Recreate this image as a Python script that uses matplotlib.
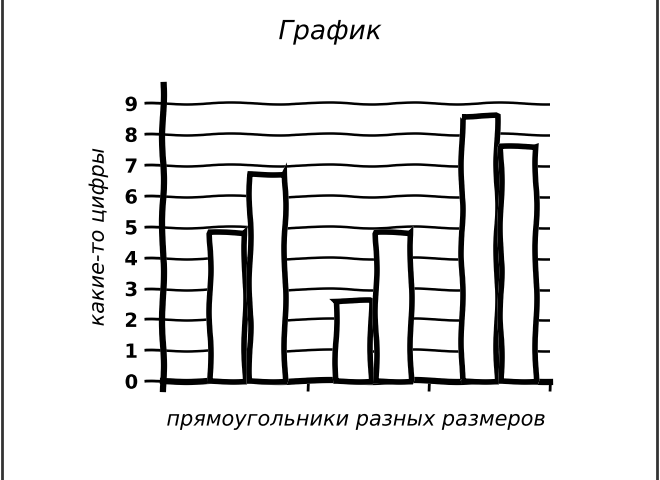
import numpy as np
import matplotlib
matplotlib.use("Agg")
import matplotlib.pyplot as plt
from matplotlib.lines import Line2D

title = "График"
xlabel = "прямоугольники разных размеров"
ylabel = "какие-то цифры"
first_bars = [4.8, 2.6, 8.6]
second_bars = [6.7, 4.8, 7.6]
yticks = list(range(10))

with plt.xkcd():
    plt.rcParams['font.family'] = ['DejaVu Sans']
    plt.rcParams['font.style'] = 'italic'

    fig = plt.figure(figsize=(6.6, 4.8), dpi=100)
    ax = fig.add_axes([0.247, 0.19, 0.586, 0.633])

    centers = 0.5 + 1.04 * np.arange(len(first_bars))
    w = 0.29
    ax.bar(centers - w / 2 - 0.02, first_bars, width=w, color='white',
           edgecolor='black', linewidth=4, zorder=3)
    ax.bar(centers + w / 2 + 0.02, second_bars, width=w, color='white',
           edgecolor='black', linewidth=4, zorder=3)

    ax.set_xlim(-0.2, 3.0)
    ax.set_ylim(-0.25, 9.6)
    ax.spines['top'].set_visible(False)
    ax.spines['right'].set_visible(False)
    ax.spines['bottom'].set_position(('data', 0))
    ax.spines['left'].set_linewidth(4.5)
    ax.spines['bottom'].set_linewidth(4.5)

    ax.set_yticks(yticks)
    ax.set_yticklabels([str(t) for t in yticks], fontsize=14, fontstyle='normal',
                       fontweight='bold')
    ax.tick_params(axis='y', length=14, width=2, direction='out', pad=4)
    ax.set_xticks([1, 2, 3])
    ax.set_xticklabels([])
    ax.tick_params(axis='x', length=7, width=2, direction='out')

    ax.yaxis.grid(True, color='black', linewidth=1.8)
    ax.set_axisbelow(True)

    fig.text(0.5, 0.933, title, fontsize=19, ha='center', va='center')
    ax.set_xlabel(xlabel, fontsize=15, labelpad=10)
    ax.set_ylabel(ylabel, fontsize=15, labelpad=12)

    for xf in (0.003, 0.996):
        ln = Line2D([xf, xf], [0, 1], transform=fig.transFigure,
                    color='#333333', linewidth=2)
        ln.set_sketch_params(None)
        ln.set_path_effects([])
        fig.add_artist(ln)

    fig.savefig("out.png", dpi=100)
